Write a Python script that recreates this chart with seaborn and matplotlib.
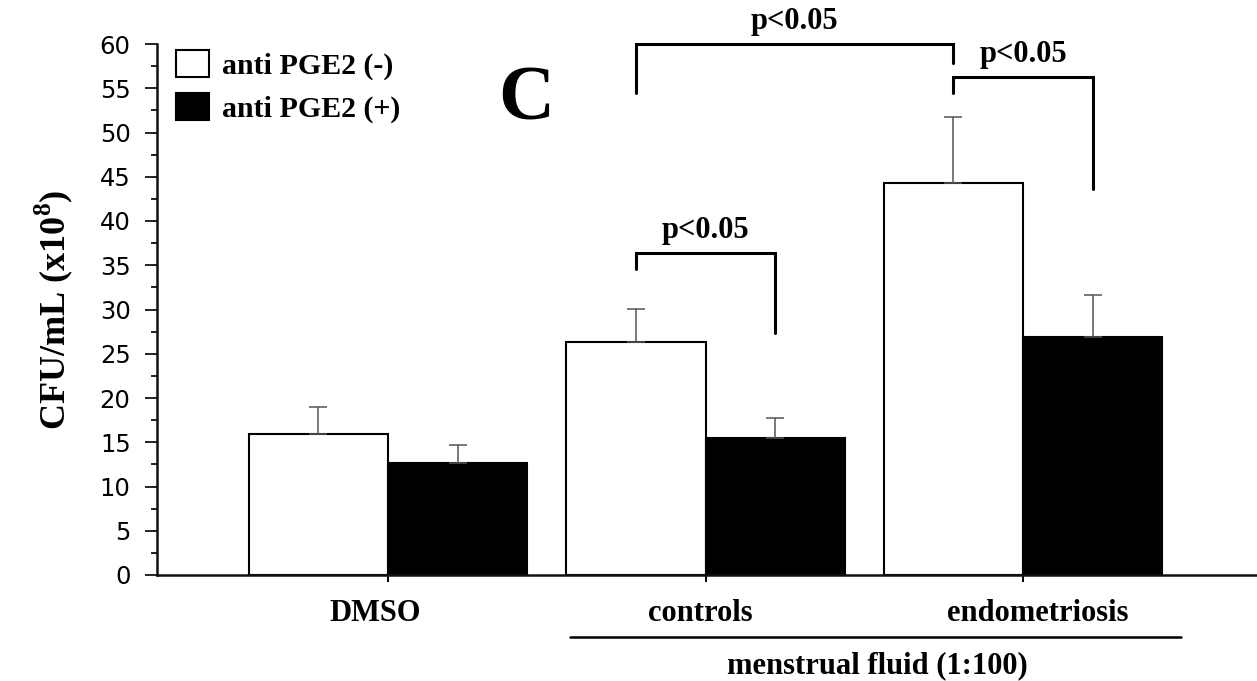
import matplotlib
matplotlib.use("Agg")
import matplotlib.pyplot as plt
import matplotlib.transforms as mtransforms
import seaborn as sns
import pandas as pd
import numpy as np
from matplotlib.ticker import MultipleLocator

# ---- data ----
categories = ["DMSO", "controls", "endometriosis"]
treatments = ["anti PGE2 (-)", "anti PGE2 (+)"]
minus_values = [15.9, 26.3, 44.3]
plus_values = [12.6, 15.5, 26.9]
minus_err = [3.1, 3.8, 7.45]
plus_err = [2.1, 2.2, 4.7]
y_ticks = [0, 5, 10, 15, 20, 25, 30, 35, 40, 45, 50, 55, 60]
p_label = "p<0.05"
# brackets: (bar a (series, cat), bar b (series, cat), top, left bottom, right bottom)
brackets = [
    ((0, 1), (0, 2), 60.0, 54.5, 57.9),
    ((0, 2), (1, 2), 56.3, 54.5, 43.6),
    ((0, 1), (1, 1), 36.4, 34.6, 27.3),
]

sns.set_style("ticks")
plt.rcParams["font.family"] = ["Liberation Serif", "DejaVu Serif"]
plt.rcParams["mathtext.fontset"] = "custom"
plt.rcParams["mathtext.rm"] = "Liberation Serif:bold"
plt.rcParams["mathtext.bf"] = "Liberation Serif:bold"
for k in ["text.color", "axes.labelcolor", "xtick.color", "ytick.color", "axes.edgecolor"]:
    plt.rcParams[k] = "black"

df = pd.DataFrame({
    "group": categories * 2,
    "value": minus_values + plus_values,
    "treatment": [treatments[0]] * 3 + [treatments[1]] * 3,
})

W, H = 1257, 681
fig = plt.figure(figsize=(W / 100, H / 100), dpi=100)
ax = fig.add_axes([157 / W, 1 - 575 / H, 1 - 157 / W, (575 - 44) / H])

sns.barplot(data=df, x="group", y="value", hue="treatment", order=categories,
            hue_order=treatments, palette=["white", "black"], edgecolor="black",
            linewidth=1.5, width=0.876, gap=0, errorbar=None, ax=ax,
            saturation=1)

errs = [minus_err, plus_err]
centers = []
for cont, e in zip(ax.containers, errs):
    xs = [p.get_x() + p.get_width() / 2 for p in cont.patches]
    hs = [p.get_height() for p in cont.patches]
    centers.append(xs)
    ax.errorbar(xs, hs, yerr=[np.zeros(len(e)), e], fmt="none", ecolor="#555555",
                elinewidth=1.1, capsize=6.5, capthick=1.1, zorder=3)

ax.set_ylim(0, 60)
ax.set_xlim(-0.7276, 2.737)
ax.yaxis.set_minor_locator(MultipleLocator(2.5))
ax.set_yticks(y_ticks)
ax.set_yticklabels([str(t) for t in y_ticks], family="DejaVu Sans", fontsize=17.5)
ax.tick_params(axis="y", which="major", length=9, width=1.4, pad=10, color="#222222")
ax.tick_params(axis="y", which="minor", length=4.5, width=1.4, color="#222222")
ax.tick_params(axis="x", length=5, width=1.4, pad=12)
label_shift_px = [-13, -5, 15]
for lab, dx in zip(ax.get_xticklabels(), label_shift_px):
    lab.set_fontsize(22)
    lab.set_fontweight("bold")
    lab.set_transform(lab.get_transform() +
                      mtransforms.ScaledTranslation(dx / 100, 0, fig.dpi_scale_trans))
ax.set_xlabel("")
ax.set_ylabel("CFU/mL (x10$^{8}$)", fontsize=26, fontweight="bold", labelpad=18)
for s in ["top", "right"]:
    ax.spines[s].set_visible(False)
for s in ["left", "bottom"]:
    ax.spines[s].set_linewidth(1.8)
    ax.spines[s].set_color("#111111")

# brackets
for a, b, top, lb, rb in brackets:
    x1 = centers[a[0]][a[1]]
    x2 = centers[b[0]][b[1]]
    ax.plot([x1, x1, x2, x2], [lb, top, top, rb], color="black", lw=2.2,
            clip_on=False, solid_joinstyle="miter")
    ax.text((x1 + x2) / 2, top + 0.9, p_label, ha="center", va="bottom",
            fontsize=22, fontweight="bold", clip_on=False)

# panel letter
ax.text(0.435, 53.6, "C", ha="center", va="center", fontsize=56, fontweight="bold")

# group line and label
ax.plot([0.573, 2.498], [-7.0, -7.0], color="black", lw=1.8, clip_on=False)
ax.text(1.54, -10.2, "menstrual fluid (1:100)", ha="center", va="center",
        fontsize=22, fontweight="bold", clip_on=False)

h, l = ax.get_legend_handles_labels()
ax.legend(h, l, loc="upper left", bbox_to_anchor=(176 / W, 1 - 50 / H),
          bbox_transform=fig.transFigure, frameon=False,
          prop={"weight": "bold", "size": 21.5}, handlelength=1.1, handleheight=1.0,
          labelspacing=0.45, handletextpad=0.45, borderpad=0, borderaxespad=0)

fig.savefig("out.png", dpi=100)
